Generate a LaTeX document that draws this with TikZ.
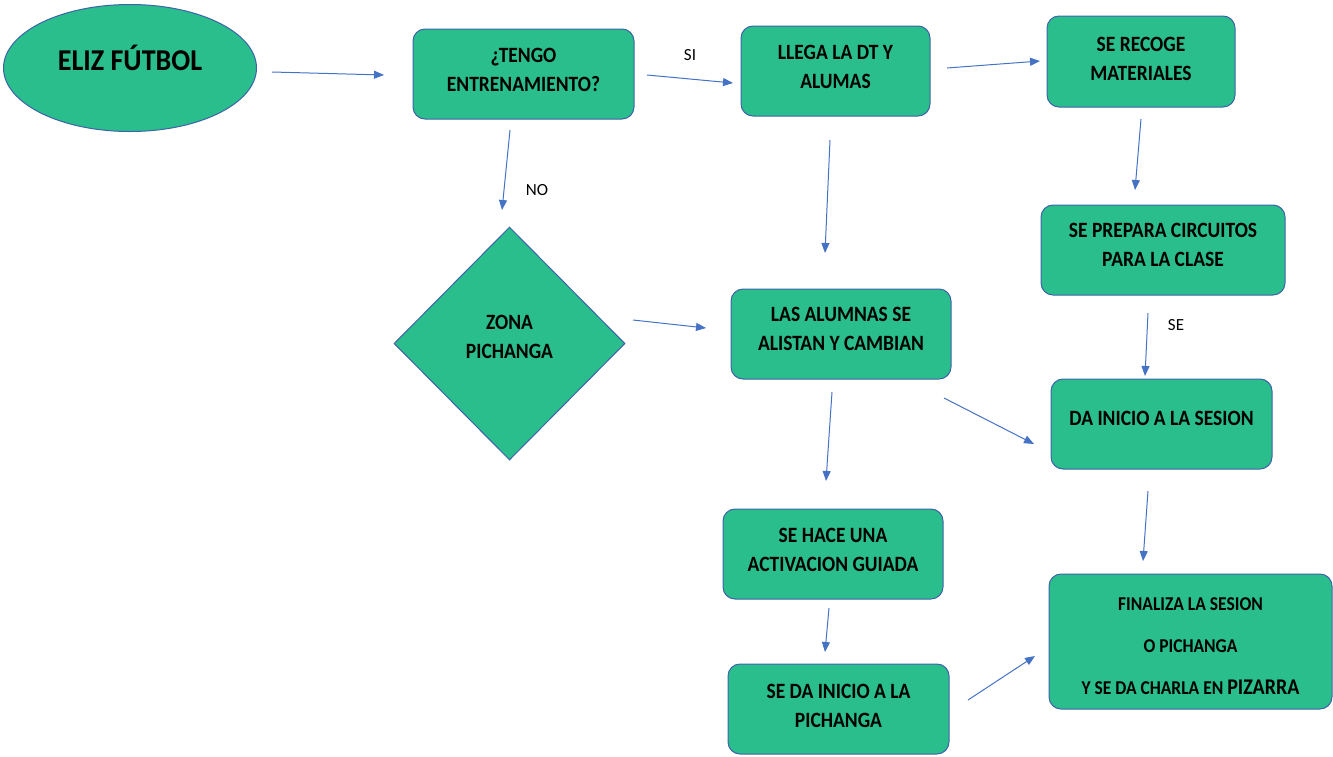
\documentclass[tikz,border=0pt]{standalone}
\usepackage{graphicx}
\usepackage{fontspec}
\setmainfont{Carlito}
\usetikzlibrary{arrows.meta,shapes.geometric}
\definecolor{boxgreen}{RGB}{41,190,139}
\definecolor{edgeblue}{RGB}{62,98,170}
\definecolor{arrowblue}{RGB}{68,114,196}
\newcommand{\boxtext}[2]{\raisebox{#1}[\height][\depth]{\scalebox{1}[1.12]{\begin{tabular}{@{}c@{}}#2\end{tabular}}}}
\tikzset{
  stepbox/.style={draw=edgeblue, line width=1pt, fill=boxgreen, rounded corners=12pt,
    inner sep=0pt, align=center, font=\bfseries\fontsize{19.5}{25.9}\selectfont},
  flow/.style={draw=arrowblue, line width=1pt, -{Triangle[length=10pt,width=8pt]}},
  lbl/.style={font=\fontsize{17}{20}\selectfont}
}
\begin{document}
\begin{tikzpicture}[x=1pt,y=-1pt]
\useasboundingbox (0,0) rectangle (1333,756);
% nodes
\node[ellipse, draw=edgeblue, line width=1pt, fill=boxgreen, minimum width=253pt, minimum height=127pt, inner sep=0pt,
  font=\bfseries\fontsize{28}{32}\selectfont] (start) at (130,68) {\raisebox{10pt}[\height][\depth]{\scalebox{1}[1.08]{ELIZ FÚTBOL}}};
\node[stepbox, minimum width=221pt, minimum height=90pt] (tengo) at (523.5,74) {\boxtext{3pt}{¿TENGO\\ENTRENAMIENTO?}};
\node[stepbox, minimum width=189pt, minimum height=90pt] (llega) at (835.5,71) {\boxtext{3pt}{LLEGA LA DT Y\\ALUMAS}};
\node[stepbox, minimum width=188pt, minimum height=91pt] (recoge) at (1141,61.5) {\boxtext{1pt}{SE RECOGE\\MATERIALES}};
\node[stepbox, minimum width=244pt, minimum height=90pt] (prepara) at (1163,250) {\boxtext{4pt}{SE PREPARA CIRCUITOS\\PARA LA CLASE}};
\node[diamond, draw=edgeblue, line width=1pt, fill=boxgreen, minimum width=231pt, minimum height=233pt, inner sep=0pt,
  align=center, font=\bfseries\fontsize{19.5}{25.9}\selectfont] (zona) at (509.5,343.5) {\boxtext{5.5pt}{ZONA\\PICHANGA}};
\node[stepbox, minimum width=220pt, minimum height=90pt] (alistan) at (841,334) {\boxtext{3.5pt}{LAS ALUMNAS SE\\ALISTAN Y CAMBIAN}};
\node[stepbox, minimum width=221pt, minimum height=90pt] (sesion) at (1161.5,424) {\boxtext{4pt}{DA INICIO A LA SESION}};
\node[stepbox, minimum width=220pt, minimum height=90pt] (activ) at (833,554) {\boxtext{2.5pt}{SE HACE UNA\\ACTIVACION GUIADA}};
\node[stepbox, minimum width=221pt, minimum height=90pt] (pich) at (838.5,709) {\boxtext{1.5pt}{SE DA INICIO A LA\\PICHANGA}};
\node[stepbox, minimum width=283pt, minimum height=135pt, font=\bfseries\fontsize{17.5}{37.5}\selectfont] (final) at (1190.5,641.5)
  {\boxtext{-2.5pt}{FINALIZA LA SESION\\O PICHANGA\\Y SE DA CHARLA EN {\fontsize{20}{37.5}\selectfont PIZARRA}}};
% connector end points
\coordinate (a1s) at (272,72);   \coordinate (a1e) at (384,75);
\coordinate (a2s) at (647,75);   \coordinate (a2e) at (733,83);
\coordinate (a3s) at (510,130);  \coordinate (a3e) at (502,210);
\coordinate (a4s) at (947,68);   \coordinate (a4e) at (1040,61);
\coordinate (a5s) at (830,140);  \coordinate (a5e) at (825,253);
\coordinate (a6s) at (1141,119); \coordinate (a6e) at (1135,190);
\coordinate (a7s) at (633,320);  \coordinate (a7e) at (706,328);
\coordinate (a8s) at (1148,313); \coordinate (a8e) at (1145,376);
\coordinate (a9s) at (832,392);  \coordinate (a9e) at (826,481);
\coordinate (a10s) at (944,398); \coordinate (a10e) at (1034,444);
\coordinate (a11s) at (1148,491);\coordinate (a11e) at (1143,561);
\coordinate (a12s) at (829,608); \coordinate (a12e) at (825,652);
\coordinate (a13s) at (968,700); \coordinate (a13e) at (1035,656);
% connectors
\draw[flow] (a1s) -- (a1e);
\draw[flow] (a2s) -- (a2e);
\draw[flow] (a3s) -- (a3e);
\draw[flow] (a4s) -- (a4e);
\draw[flow] (a5s) -- (a5e);
\draw[flow] (a6s) -- (a6e);
\draw[flow] (a7s) -- (a7e);
\draw[flow] (a8s) -- (a8e);
\draw[flow] (a9s) -- (a9e);
\draw[flow] (a10s) -- (a10e);
\draw[flow] (a11s) -- (a11e);
\draw[flow] (a12s) -- (a12e);
\draw[flow] (a13s) -- (a13e);
% labels
\node[lbl] (si) at (690,55) {SI};
\node[lbl] (no) at (537,190) {NO};
\node[lbl] (se) at (1176,325) {SE};
\end{tikzpicture}
\end{document}
